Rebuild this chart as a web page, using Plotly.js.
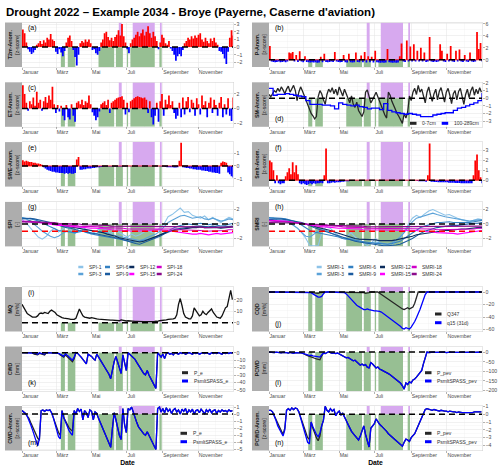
<!DOCTYPE html>
<html><head><meta charset="utf-8">
<script src="https://cdn.plot.ly/plotly-3.0.1.min.js"></script>
<style>html,body{margin:0;padding:0;background:#fff}#chart{width:500px;height:470px}</style>
</head><body><div id="chart"></div>
<script>
// ---------------- DATA ----------------
const MONTH_TICKS = ['2022-01-01','2022-03-01','2022-05-01','2022-07-01','2022-09-01','2022-11-01'];
const MONTH_LABELS = ['Januar','März','Mai','Juli','September','November'];
const MINOR_MONTHS = ['2022-02-01','2022-04-01','2022-06-01','2022-08-01','2022-10-01','2022-12-01'];

const HEAT_START = ['2022-06-17','2022-07-11','2022-08-27'];
const HEAT_END   = ['2022-06-22','2022-08-18','2022-08-30'];
const DRY_START  = ['2022-03-09','2022-03-21','2022-05-13','2022-06-12','2022-07-01','2022-07-07','2022-08-26'];
const DRY_END    = ['2022-03-16','2022-04-03','2022-06-09','2022-06-24','2022-07-03','2022-08-18','2022-08-30'];

// 3-day series (122 values, from 1 Jan 2022)
const T2M = [2.3,1.8,0.6,-0.3,-0.6,-0.9,-0.7,-0.4,0.3,0.5,
 0.8,0.4,0.9,0.6,1.2,1.0,1.7,1.0,0.8,-0.6,
 -0.9,-0.3,-0.7,-1.2,-0.5,0.6,1.2,1.5,0.8,-0.4,
 -1.3,-2.4,-1.0,0.5,0.8,0.6,1.0,0.7,1.0,0.5,
 -0.4,-0.3,-0.8,-1.0,-0.5,0.6,1.0,1.8,2.0,1.3,
 0.9,1.2,0.8,1.3,1.6,2.2,1.5,3.0,1.4,0.6,
 -0.3,-0.8,0.5,1.0,1.2,1.6,2.0,1.4,1.8,2.3,
 1.5,2.0,2.7,1.8,1.2,2.0,1.4,0.8,-0.3,0.6,
 1.6,1.2,0.5,0.3,0.8,-0.2,-0.5,-1.0,-1.8,-1.2,
 -0.9,-1.2,-0.4,0.5,0.8,1.2,1.0,1.4,1.1,1.5,
 1.2,1.6,1.8,1.0,0.7,1.2,0.8,0.5,1.1,0.8,
 1.2,0.6,0.3,-0.5,-0.6,-0.9,-1.5,-2.2,-0.6,1.2,
 2.2,1.5];
const PREC = [2.3,-0.3,-0.35,-0.4,-0.35,-0.3,-0.4,-0.35,-0.3,-0.4,
 -0.3,1.2,1.1,1.3,-0.3,0.8,-0.35,1.4,-0.3,-0.4,
 0.6,-0.35,-0.4,-0.45,-0.4,-0.45,-0.4,-0.5,-0.45,0.5,
 -0.4,1.0,-0.35,-0.4,-0.35,-0.3,-0.35,1.3,-0.3,-0.35,
 -0.4,-0.35,0.8,-0.4,-0.45,1.0,-0.4,-0.45,-0.4,1.2,
 -0.35,-0.4,0.7,-0.4,1.3,-0.45,0.6,-0.4,0.5,-0.45,
 1.5,-0.4,-0.45,-0.5,-0.45,-0.5,-0.45,1.8,-0.4,-0.45,
 -0.5,-0.45,-0.5,-0.45,0.6,2.7,-0.3,-0.35,3.2,-0.3,
 2.2,-0.3,2.6,-0.3,1.5,-0.3,2.0,-0.3,1.2,-0.35,
 -0.3,3.8,-0.3,-0.35,-0.3,-0.35,-0.3,2.6,1.5,-0.3,
 -0.35,1.0,-0.3,2.3,-0.3,-0.35,1.5,-0.3,1.7,-0.3,
 -0.35,0.8,-0.3,-0.35,1.2,-0.3,-0.35,-0.3,4.6,1.8,
 2.8,-0.3];
const ET = [3.2,2.0,0.8,-0.3,1.0,0.6,1.5,0.4,2.3,0.8,
 1.2,-0.3,1.0,1.6,0.8,1.8,1.2,3.0,0.6,-0.6,
 0.5,-0.4,0.4,-1.0,-1.6,0.5,-1.2,-1.5,0.6,-1.0,
 -1.8,0.8,1.0,0.6,1.2,0.5,1.0,0.8,1.8,0.6,
 -0.5,-1.0,-1.6,-1.2,-0.4,0.6,0.8,1.0,0.5,1.2,
 -0.6,0.8,1.0,1.2,1.4,1.5,1.6,1.7,1.2,-0.8,
 0.8,-0.5,1.0,1.2,1.4,1.6,1.7,1.6,1.5,1.4,
 1.5,1.2,-0.6,1.0,-1.2,-2.2,-1.0,0.8,-1.8,1.0,
 2.0,-1.0,1.2,0.6,1.8,0.5,1.0,-0.6,-1.4,-1.0,
 0.8,-1.2,1.5,-0.8,1.0,1.6,-0.5,1.2,0.8,-1.0,
 1.4,0.6,-0.8,1.8,0.5,1.0,-1.2,0.8,1.5,-0.6,
 1.2,0.5,-1.0,0.8,1.6,-1.2,0.6,-0.8,1.4,-1.0,
 -1.7,1.5];
const SM_TOP = [0.5,0.2,0.6,1.0,0.8,1.3,0.9,1.5,1.1,0.6,
 1.2,1.6,0.8,1.3,1.7,1.0,-0.3,0.8,1.5,1.0,
 0.4,-0.3,-1.0,-1.6,-2.0,-2.3,-2.7,-2.4,0.2,1.0,
 0.6,-0.2,-0.8,0.5,1.2,0.8,1.4,0.6,1.2,0.4,
 1.5,0.9,0.3,1.2,0.5,-0.2,-0.6,0.3,-0.8,-1.2,
 -0.5,-1.6,-2.0,-2.4,-1.8,0.8,1.1,0.2,-0.6,-0.2,
 0.4,0.8,0.2,-0.5,-1.0,-1.6,-2.2,-2.6,0.8,0.4,
 -0.4,-1.0,-1.5,-2.0,-2.4,-2.8,-3.3,-2.0,-2.6,-1.8,
 0.3,-0.3,0.8,1.3,0.5,1.7,0.8,1.2,0.2,-0.6,
 0.8,1.5,0.4,-0.4,0.6,1.2,-0.2,0.9,1.4,0.2,
 -0.5,0.8,1.3,0.4,-0.7,0.6,1.0,-0.2,0.9,1.3,
 0.3,-0.8,0.5,1.2,0.1,1.0,1.5,0.4,1.2,0.6,
 1.4,0.8];
const SWE = [0.45,0.35,0.4,0.35,0.3,0.3,0.25,0.25,0.2,0.2,
 0.15,0.1,-0.1,-0.2,-0.3,-0.35,-0.4,-0.45,-0.45,-0.5,
 -0.5,-0.55,-0.55,-0.55,-0.6,-0.55,-0.6,-0.55,-0.6,-0.6,
 -0.55,0.5,0.7,-0.3,-0.3,-0.25,-0.25,-0.2,-0.2,-0.2,
 -0.15,-0.15,-0.12,-0.1,-0.1,-0.08,-0.06,-0.05,-0.04,-0.04,
 -0.04,-0.04,-0.04,-0.04,-0.04,-0.04,-0.04,-0.04,-0.04,-0.04,
 -0.03,-0.03,-0.03,-0.03,-0.03,-0.03,-0.03,-0.03,-0.03,-0.03,
 -0.03,-0.03,-0.03,-0.03,-0.03,-0.03,-0.03,-0.03,-0.03,-0.03,
 -0.04,-0.05,-0.08,-0.1,-0.1,-0.1,-0.1,-0.12,-0.12,-0.1,
 0.4,1.8,-0.1,-0.12,-0.15,-0.15,-0.2,-0.2,-0.25,-0.25,
 -0.3,-0.3,-0.3,-0.35,-0.35,-0.4,-0.4,-0.45,-0.45,-0.5,
 -0.5,-0.55,-0.55,-0.6,0.25,0.35,0.3,0.25,-0.5,-0.65,
 -0.8,-0.9];
const SMLT = [2.0,1.8,1.0,-0.3,0.5,-0.3,-0.4,-0.3,-0.3,0.4,
 0.8,1.2,0.6,1.8,0.8,1.5,0.6,-0.3,-0.4,-0.3,
 -0.4,-0.5,-0.4,-0.3,-0.4,-0.3,-0.35,-0.3,-0.3,-0.25,
 -0.3,0.5,3.2,-0.3,-0.3,-0.25,-0.2,-0.25,-0.2,-0.2,
 -0.2,-0.15,-0.15,-0.12,-0.1,-0.1,-0.08,-0.06,-0.04,-0.04,
 -0.04,-0.04,-0.04,-0.04,-0.04,-0.04,-0.04,-0.04,-0.04,-0.04,
 -0.04,-0.04,-0.04,-0.04,-0.04,-0.04,-0.04,-0.04,-0.04,-0.04,
 -0.04,-0.04,-0.04,-0.04,-0.04,-0.04,-0.04,-0.04,-0.04,-0.04,
 -0.04,-0.04,-0.04,-0.04,-0.08,-0.1,-0.1,-0.12,-0.12,-0.15,
 0.5,3.7,-0.15,-0.15,-0.18,-0.18,-0.2,-0.2,-0.2,-0.22,
 -0.22,-0.22,-0.25,-0.25,-0.25,-0.25,-0.28,-0.28,-0.28,-0.3,
 -0.3,-0.3,-0.3,-0.3,-0.3,-0.3,0.5,2.0,2.6,1.0,
 0.3,-0.3];
const MQ = [16,13,10,8,7,6,5,5,5,6,
 8,8.5,8,9,8.5,8,10,11,10,9,
 7,6,5,4.5,4,4,3.5,3.5,3,3,
 3,4,9,12,9,6,5,4.5,4,4,
 4.5,4,3.5,3.5,3.2,3,3,2.8,2.6,2.5,
 2.5,2.4,2.3,2.2,2.0,2.0,1.8,2.5,2.0,1.8,
 1.6,1.8,1.5,1.4,1.3,1.2,1.2,1.3,1.1,1.0,
 1.0,1.0,0.9,0.9,1.0,0.9,1.0,1.5,1.2,1.8,
 2.0,1.6,2.0,2.5,3.0,3.0,3.2,3.5,4.0,7,
 16,21,15,8,5,4,3.5,3.5,6,13,
 11,8,6,7,10,8,7,9,11,12,
 9,7,5,4.5,4,6,9,13,14,22,
 28,20];
const CQD_Q347 = [0,0,0,0,0,0,0,0,0,0,
 0,0,0,0,0,0,0,0,0,0,
 0,0,0,0,-0.5,-1.5,-2,-2.5,-2,-1,
 -0.5,0,0,0,0,0,0,0,0,0,
 0,0,0,0,0,0,0,0,0,0,
 0,0,0,0,-1,-2,-2,-1,0,0,
 0,0,0,-2,-4,-6,-8,-10,-12,-14,
 -16,-17,-19,-21,-23,-25,-27,-28,-26,-25,
 -27,-26,-24,-18,-8,0,0,0,0,0,
 0,0,0,0,0,0,0,0,0,0,
 0,0,0,0,0,0,0,0,0,0,
 0,0,0,0,0,0,0,0,0,0,
 0,0];
const CQD_Q15 = [0,0,0,0,0,0,0,0,0,0,
 0,0,0,0,0,0,0,0,0,0,
 0,0,0,0,-1,-3,-5,-7,-8,-8,
 -7,-3,0,0,0,0,0,0,0,0,
 0,0,0,-1,-3,-6,-9,-13,-16,-19,
 -21,-23,-25,-26,-28,-28,-27,-28,-29,-30,
 -30,-30,-30,-31,-32,-34,-36,-38,-40,-42,
 -44,-46,-48,-50,-52,-55,-58,-59,-57,-58,
 -59,-56,-52,-47,-41,-35,-28,-20,-12,-4,
 0,0,0,0,0,0,0,0,0,0,
 0,0,0,0,0,0,0,0,0,0,
 0,0,0,0,0,0,0,0,0,0,
 0,0];
const CWD_PE = [0,0,-1,0,-1,-1,0,-2,-2,-3,
 -1,-2,-2,-3,0,0,-1,0,-1,-1,
 0,-1,-3,-4,-6,-3,-5,-7,-9,-12,
 -8,0,-1,-3,-6,-9,-12,-15,-2,-3,
 -5,-8,-10,-2,-6,-10,-13,-17,-21,-24,
 -29,-35,-22,-12,-5,-14,-22,-28,-3,-15,
 -24,0,-2,-4,-6,-9,-13,-17,-21,-25,
 -28,-30,-24,-30,-35,-39,-43,-48,0,-3,
 -6,-2,-8,-1,0,-2,-1,-3,0,-1,
 -2,0,-1,0,-2,-1,0,-1,-2,0,
 -1,0,-2,-1,0,-1,0,-1,-2,0,
 -1,0,-1,0,-1,-2,0,-1,0,-1,
 0,-1];
const CWD_PS = [0,0,-1,0,-1,-1,0,-1,-1,-2,
 0,-1,-1,-2,0,0,-1,0,-1,-1,
 0,-1,-2,-3,-5,-1,-3,-5,-7,-10,
 -6,0,-1,-3,-6,-9,-12,-15,-2,-3,
 -5,-8,-10,-2,-6,-10,-13,-17,-21,-24,
 -29,-35,-22,-12,-5,-14,-22,-28,-3,-15,
 -24,0,-2,-4,-6,-9,-13,-17,-21,-25,
 -28,-30,-24,-30,-35,-39,-43,-48,0,-3,
 -6,-2,-8,-1,0,-2,-1,-3,0,-1,
 -2,0,-1,0,-2,-1,0,-1,-2,0,
 -1,0,-2,-1,0,-1,0,-1,-2,0,
 -1,0,-1,0,-1,-2,0,-1,0,-1,
 0,-1];
const PCWD_PE = [0,-2,-1,-3,0,-2,-1,-4,-2,-1,
 -3,-5,-2,-4,-6,-3,-5,-4,-3,-5,
 -10,-15,-20,-22,-25,-30,-32,-35,-38,-40,
 -20,-5,-8,-2,2,-3,-6,-4,-8,-5,
 -10,-12,-20,-25,-30,-28,-35,-40,-45,-42,
 -50,-58,-68,-62,-70,-65,-78,-82,-55,-62,
 -75,-82,-78,-88,-92,-96,-100,-105,-112,-118,
 -125,-130,-138,-145,-152,-162,-175,-192,-160,-168,
 -155,-160,-145,-140,-130,-118,-105,-95,-60,-25,
 0,-2,-1,-3,0,-2,-1,0,-2,-1,
 0,-3,-1,0,-2,-1,0,-1,-2,0,
 -1,0,-2,-1,0,-1,0,-1,0,-1,
 0,-1];
const PCWD_PS = [0,-2,-1,-3,0,-2,-1,-4,-2,-1,
 -3,-5,-2,-4,-6,-3,-5,-4,-3,-5,
 -8,-12,-15,-18,-16,-20,-22,-25,-23,-26,
 -15,-5,-8,-2,2,-3,-6,-4,-8,-5,
 -10,-12,-20,-25,-30,-28,-35,-40,-45,-42,
 -50,-58,-68,-62,-70,-65,-78,-82,-55,-62,
 -75,-82,-78,-88,-92,-96,-100,-105,-112,-118,
 -125,-130,-138,-145,-152,-162,-175,-192,-160,-168,
 -155,-160,-145,-140,-130,-118,-105,-95,-60,-25,
 0,-2,-1,-3,0,-2,-1,0,-2,-1,
 0,-3,-1,0,-2,-1,0,-1,-2,0,
 -1,0,-2,-1,0,-1,0,-1,0,-1,
 0,-1];
const CWDA_PE = [0.5,0.3,0.1,-0.3,-0.6,-1.2,-1.8,-2.4,-3.0,-3.4,
 -3.7,0.5,0.6,0.4,0.6,0.5,0.6,0.2,-0.5,-1.2,
 -2.0,-2.6,-3.0,0.5,-0.5,-1.0,-1.5,-1.9,-2.2,-2.4,
 0.5,0.0,0.8,0.4,0.7,-0.8,0.5,0.2,-0.5,0.6,
 0.4,-0.8,0.3,0.1,-0.6,-1.2,-1.8,-2.3,-3.0,-3.6,
 -4.3,-4.7,-2.0,0.2,-0.8,-2.0,-3.0,-3.6,0.8,-1.5,
 -2.6,0.8,0.6,1.0,0.2,-0.6,-1.2,-1.8,-2.2,-2.5,
 -2.8,-3.0,-2.5,-3.0,-3.5,-4.0,-4.5,-5.0,0.8,1.0,
 0.3,0.8,0.2,0.9,0.4,0.7,0.1,0.6,0.8,0.3,
 0.6,0.0,0.7,0.4,0.8,0.1,0.6,0.3,0.7,0.0,
 0.5,0.6,0.2,0.7,0.4,0.0,0.6,0.3,0.7,0.2,
 0.5,0.6,0.1,0.5,0.3,0.6,0.4,0.5,0.3,0.6,
 0.4,0.5];
const CWDA_PS = [0.5,0.3,0.1,-0.3,-0.8,-1.5,-2.2,-3.0,-3.8,-4.5,
 -3.5,0.5,0.6,0.4,0.6,0.5,0.6,0.2,-0.5,-1.5,
 -2.5,-3.2,-3.5,0.5,-0.5,-1.2,-1.8,-2.3,-2.7,-3.0,
 0.5,0.0,0.8,0.4,0.7,-0.8,0.5,0.2,-0.5,0.6,
 0.4,-0.8,0.3,0.1,-0.6,-1.2,-1.8,-2.3,-3.0,-3.6,
 -4.3,-4.7,-2.0,0.2,-0.8,-2.0,-3.0,-3.6,0.8,-1.5,
 -2.6,0.8,0.6,1.0,0.2,-0.6,-1.2,-1.8,-2.2,-2.5,
 -2.8,-3.0,-2.5,-3.0,-3.5,-4.0,-4.5,-5.0,0.8,1.0,
 0.3,0.8,0.2,0.9,0.4,0.7,0.1,0.6,0.8,0.3,
 0.6,0.0,0.7,0.4,0.8,0.1,0.6,0.3,0.7,0.0,
 0.5,0.6,0.2,0.7,0.4,0.0,0.6,0.3,0.7,0.2,
 0.5,0.6,0.1,0.5,0.3,0.6,0.4,0.5,0.3,0.6,
 0.4,0.5];
const PCWDA_PE = [0.5,0.5,0.3,-0.2,-0.7,-1.3,-1.8,-2.3,-2.6,-1.8,
 0.5,0.7,0.5,0.8,0.6,0.8,0.7,0.3,-0.4,-1.0,
 -1.8,-2.5,-3.0,-3.2,-1.0,-1.8,-2.5,-3.0,-3.4,-2.8,
 -1.5,-0.8,1.0,0.5,0.3,0.7,0.4,0.6,-0.2,0.2,
 0.4,-0.1,0.1,-0.3,-0.8,-1.3,-1.8,-2.2,-2.5,-2.8,
 -3.0,-3.3,-2.8,-2.0,-1.5,-2.6,-3.6,-4.2,-1.8,-1.5,
 -1.2,-0.6,-1.0,-1.3,-1.5,-1.7,-2.0,-2.2,-2.5,-2.7,
 -2.9,-3.1,-3.3,-3.5,-3.7,-3.9,-4.1,-3.6,-3.2,-3.3,
 -3.5,-3.0,-2.8,-2.5,-2.0,-1.5,-1.0,-0.5,0.0,0.6,
 0.7,0.6,0.6,0.5,0.6,0.5,0.5,0.4,0.5,0.4,
 0.4,0.4,0.3,0.4,0.3,0.3,0.3,0.2,0.3,0.2,
 0.2,0.2,0.2,0.2,0.2,0.2,0.2,0.3,0.3,0.3,
 0.3,0.3];
const PCWDA_PS = [0.5,0.5,0.3,-0.2,-0.8,-1.5,-2.0,-2.5,-2.8,-2.0,
 0.5,0.7,0.5,0.8,0.6,0.8,0.7,0.3,-0.5,-1.3,
 -2.2,-3.0,-3.6,-3.8,-1.0,-1.6,-2.2,-2.6,-2.9,-2.4,
 -1.5,-0.8,1.0,0.5,0.3,0.7,0.4,0.6,-0.2,0.2,
 0.4,-0.1,0.1,-0.3,-0.8,-1.3,-1.8,-2.2,-2.5,-2.8,
 -3.0,-3.3,-2.8,-2.0,-1.5,-2.6,-3.6,-4.2,-1.8,-1.5,
 -1.2,-0.6,-1.0,-1.3,-1.5,-1.7,-2.0,-2.2,-2.5,-2.7,
 -2.9,-3.1,-3.3,-3.5,-3.7,-3.9,-4.1,-3.6,-3.2,-3.3,
 -3.5,-3.0,-2.8,-2.5,-2.0,-1.5,-1.0,-0.5,0.0,0.6,
 0.7,0.6,0.6,0.5,0.6,0.5,0.5,0.4,0.5,0.4,
 0.4,0.4,0.3,0.4,0.3,0.3,0.3,0.2,0.3,0.2,
 0.2,0.2,0.2,0.2,0.2,0.2,0.2,0.3,0.3,0.3,
 0.3,0.3];

// weekly series (53 values)
const SM_DEEP = [1.3,0.4,0.5,0.5,0.6,0.5,0.4,0.3,0.2,-0.3,
 -0.8,-0.8,-0.8,-0.9,-0.9,-1.0,-1.4,-0.6,-0.8,-0.9,
 -1.0,-0.9,-1.1,-1.2,-1.4,-1.3,-1.3,-1.5,-0.7,-1.6,
 -1.8,-1.9,-2.0,-2.1,-2.0,-2.1,-2.2,-2.4,-2.4,-2.4,
 -2.2,-2.1,-2.0,-1.9,-1.9,-1.6,-1.3,-1.2,-1.0,-0.8,
 -0.6,-0.3,0.7];
const SPI_1 = [0.6,0.2,-0.5,-1.2,-1.8,-2.1,-1.7,-1.0,-0.6,-1.1,-0.7,-0.3,-0.8,-1.2,-0.6,-0.4,-0.9,-1.4,-1.1,-0.7,-0.5,-1.0,-1.3,-0.9,-1.2,-1.5,-1.8,-1.4,-1.7,-1.5,-1.1,-0.8,-1.2,-0.9,-0.6,0.0,1.0,1.3,1.8,2.2,1.6,1.7,1.2,1.0,0.8,1.1,0.6,0.9,0.5,0.2,0.6,0.9,0.7];
const SPI_3 = [0.8,0.7,0.4,0.0,-0.5,-1.0,-1.4,-1.7,-1.9,-1.7,-1.3,-1.0,-1.1,-1.3,-1.0,-0.8,-1.0,-1.3,-1.4,-1.2,-1.0,-1.2,-1.5,-1.6,-1.7,-1.8,-2.0,-2.1,-2.2,-2.3,-2.1,-1.8,-1.6,-1.4,-1.0,-0.4,0.2,0.5,0.8,1.1,1.2,1.0,0.8,0.9,1.0,0.7,0.6,0.8,0.6,0.4,0.5,0.7,0.6];
const SPI_6 = [0.9,0.8,0.8,0.6,0.4,0.2,-0.1,-0.4,-0.7,-0.9,-1.0,-1.0,-1.1,-1.2,-1.1,-1.0,-1.2,-1.4,-1.5,-1.6,-1.7,-1.8,-1.9,-2.0,-2.1,-2.2,-2.3,-2.4,-2.5,-2.4,-2.3,-2.2,-2.0,-1.8,-1.5,-1.2,-0.9,-0.6,-0.4,-0.2,-0.1,0.0,-0.1,0.0,0.1,0.0,-0.1,0.0,-0.2,-0.3,-0.2,0.0,0.1];
const SPI_9 = [0.7,0.8,0.8,0.7,0.6,0.5,0.4,0.2,0.0,-0.2,-0.4,-0.5,-0.6,-0.8,-0.9,-1.0,-1.1,-1.3,-1.4,-1.5,-1.6,-1.7,-1.8,-1.9,-2.0,-2.2,-2.4,-2.6,-2.7,-2.8,-2.6,-2.4,-2.2,-2.0,-1.7,-1.4,-1.1,-0.9,-0.7,-0.6,-0.5,-0.4,-0.4,-0.3,-0.3,-0.4,-0.4,-0.3,-0.4,-0.5,-0.4,-0.3,-0.3];
const SPI_12 = [0.3,0.4,0.4,0.3,0.3,0.2,0.2,0.1,0.0,-0.1,-0.2,-0.3,-0.3,-0.4,-0.5,-0.6,-0.7,-0.8,-0.9,-1.0,-1.2,-1.4,-1.5,-1.7,-1.9,-2.0,-2.2,-2.3,-2.4,-2.5,-2.4,-2.2,-2.0,-1.8,-1.6,-1.3,-1.0,-0.9,-0.8,-0.7,-0.6,-0.6,-0.5,-0.5,-0.4,-0.5,-0.5,-0.4,-0.5,-0.6,-0.5,-0.5,-0.4];
const SPI_15 = [0.4,0.4,0.3,0.3,0.2,0.1,0.0,-0.1,-0.1,-0.2,-0.2,-0.3,-0.3,-0.4,-0.4,-0.5,-0.5,-0.6,-0.6,-0.6,-0.7,-0.7,-0.8,-0.8,-0.8,-0.9,-0.9,-1.0,-1.0,-1.0,-1.0,-0.9,-0.9,-0.8,-0.8,-0.8,-0.9,-1.0,-1.1,-1.2,-1.3,-1.3,-1.4,-1.4,-1.3,-1.4,-1.5,-1.4,-1.3,-1.4,-1.3,-1.2,-1.2];
const SPI_18 = [0.3,0.3,0.3,0.2,0.2,0.2,0.1,0.1,0.0,0.0,-0.1,-0.1,-0.2,-0.2,-0.3,-0.3,-0.3,-0.4,-0.4,-0.4,-0.5,-0.5,-0.5,-0.6,-0.6,-0.6,-0.7,-0.7,-0.7,-0.7,-0.7,-0.6,-0.6,-0.6,-0.6,-0.6,-0.6,-0.7,-0.7,-0.8,-0.8,-0.9,-0.9,-0.9,-0.9,-1.0,-1.0,-1.0,-0.9,-0.9,-0.9,-0.8,-0.8];
const SPI_24 = [0.3,0.3,0.3,0.3,0.3,0.2,0.2,0.2,0.2,0.1,0.1,0.1,0.0,0.0,0.0,-0.1,-0.1,-0.1,-0.2,-0.2,-0.2,-0.2,-0.3,-0.3,-0.3,-0.3,-0.3,-0.4,-0.4,-0.4,-0.4,-0.4,-0.3,-0.3,-0.3,-0.3,-0.3,-0.3,-0.3,-0.4,-0.4,-0.4,-0.4,-0.4,-0.4,-0.5,-0.5,-0.5,-0.4,-0.4,-0.4,-0.4,-0.4];
const SMRI_1 = [0.8,0.6,0.3,0.5,0.7,0.2,-0.2,-0.6,-1.2,-2.0,-3.0,-3.0,-3.0,-1.0,-0.4,-0.6,-1.2,-1.6,-2.0,-1.8,-1.2,-1.8,-2.2,-2.6,-3.0,-2.6,-2.0,-2.6,-3.0,-2.8,-3.0,-2.2,-2.0,-1.0,0.0,0.8,1.2,0.9,1.4,1.8,2.0,1.7,1.5,1.2,1.3,1.0,0.8,0.6,0.5,0.3,0.5,0.7,0.6];
const SMRI_3 = [0.7,0.8,0.6,0.6,0.5,0.2,-0.2,-0.6,-1.2,-1.7,-1.8,-1.4,-1.0,-0.8,-0.9,-1.2,-1.5,-1.8,-2.0,-2.1,-2.0,-2.2,-2.4,-2.6,-2.7,-2.6,-2.5,-2.6,-2.7,-2.8,-2.6,-2.3,-1.8,-1.2,-0.4,0.3,0.8,1.0,1.2,1.4,1.5,1.3,1.1,1.0,0.9,0.8,0.7,0.6,0.5,0.4,0.5,0.6,0.6];
const SMRI_6 = [0.9,0.9,0.8,0.8,0.7,0.6,0.4,0.2,-0.2,-0.6,-0.9,-1.1,-1.2,-1.3,-1.4,-1.5,-1.6,-1.8,-2.0,-2.1,-2.2,-2.3,-2.4,-2.5,-2.6,-2.6,-2.7,-2.7,-2.8,-2.8,-2.7,-2.6,-2.4,-2.0,-1.6,-1.2,-0.8,-0.5,-0.3,-0.1,0.1,0.2,0.2,0.3,0.3,0.2,0.2,0.2,0.1,0.2,0.3,0.4,0.5];
const SMRI_9 = [0.6,0.7,0.7,0.7,0.6,0.6,0.5,0.4,0.2,0.0,-0.3,-0.5,-0.7,-0.9,-1.0,-1.2,-1.4,-1.6,-1.8,-2.0,-2.2,-2.4,-2.5,-2.6,-2.7,-2.8,-2.9,-3.0,-3.0,-3.0,-3.0,-2.9,-2.8,-2.6,-2.3,-2.0,-1.6,-1.3,-1.0,-0.8,-0.6,-0.5,-0.4,-0.3,-0.3,-0.2,-0.2,-0.1,-0.1,0.0,0.1,0.1,0.2];
const SMRI_12 = [0.2,0.3,0.3,0.3,0.3,0.3,0.2,0.2,0.1,0.0,-0.2,-0.3,-0.5,-0.6,-0.8,-0.9,-1.1,-1.3,-1.5,-1.7,-1.9,-2.0,-2.1,-2.1,-2.2,-2.2,-2.2,-2.3,-2.3,-2.4,-2.3,-2.2,-2.1,-2.0,-1.9,-1.7,-1.5,-1.4,-1.3,-1.2,-1.1,-1.0,-1.0,-0.9,-0.9,-0.8,-0.8,-0.7,-0.7,-0.6,-0.6,-0.5,-0.5];
const SMRI_15 = [0.5,0.5,0.5,0.4,0.4,0.3,0.2,0.1,0.0,-0.1,-0.2,-0.3,-0.3,-0.4,-0.4,-0.5,-0.5,-0.6,-0.6,-0.6,-0.7,-0.7,-0.7,-0.8,-0.8,-0.8,-0.8,-0.9,-0.9,-0.9,-0.9,-0.9,-0.8,-0.8,-0.8,-0.9,-0.9,-1.0,-1.0,-1.1,-1.1,-1.2,-1.2,-1.3,-1.3,-1.3,-1.4,-1.3,-1.2,-1.1,-1.0,-1.0,-0.9];
const SMRI_18 = [0.4,0.4,0.4,0.4,0.3,0.3,0.2,0.2,0.1,0.0,0.0,-0.1,-0.1,-0.2,-0.2,-0.3,-0.3,-0.3,-0.4,-0.4,-0.4,-0.5,-0.5,-0.5,-0.6,-0.6,-0.6,-0.6,-0.7,-0.7,-0.7,-0.7,-0.7,-0.6,-0.6,-0.6,-0.6,-0.6,-0.7,-0.7,-0.7,-0.8,-0.8,-0.8,-0.8,-0.8,-0.8,-0.8,-0.7,-0.7,-0.7,-0.6,-0.6];
const SMRI_24 = [0.2,0.2,0.2,0.2,0.2,0.2,0.1,0.1,0.1,0.0,0.0,0.0,-0.1,-0.1,-0.1,-0.2,-0.2,-0.2,-0.2,-0.3,-0.3,-0.3,-0.3,-0.3,-0.4,-0.4,-0.4,-0.4,-0.4,-0.4,-0.4,-0.4,-0.4,-0.4,-0.4,-0.4,-0.4,-0.4,-0.4,-0.4,-0.4,-0.4,-0.4,-0.4,-0.4,-0.4,-0.4,-0.4,-0.3,-0.3,-0.3,-0.3,-0.3];

const SPI_NAMES = ['SPI-1','SPI-3','SPI-6','SPI-9','SPI-12','SPI-15','SPI-18','SPI-24'];
const SMRI_NAMES = ['SMRI-1','SMRI-3','SMRI-6','SMRI-9','SMRI-12','SMRI-15','SMRI-18','SMRI-24'];
const SM_NAMES = ['0-7cm','100-289cm'];
const CQD_NAMES = ['Q347','q15 (31d)'];
const CWD_NAMES = ['P_e','PsmltSPASS_e'];
const PCWD_NAMES = ['P_pev','PsmltSPASS_pev'];

// ---------------- STYLE / LAYOUT ----------------
const FONT = 'Liberation Sans, Arial, Helvetica, sans-serif';
const DAY = 86400000;
const W = 500, H = 470;
const PURPLE = '#d7a9ef', GREEN = '#97bf93', STRIP = '#adadad';
const IDX_COLORS = ['#8dc3e8','#5ba2d8','#3380c2','#1b5b9f','#0b2c5c','#ff00ff','#d000c8','#8b0a8b'];

function dateGrid(step, n){ const out=[]; const t0=Date.UTC(2022,0,1); for(let i=0;i<n;i++){ out.push(new Date(t0+i*step*DAY).toISOString().slice(0,10)); } return out; }
const D3 = dateGrid(3, T2M.length);
const D7 = dateGrid(7, SPI_1.length);

const ROWS_PX = [[22.5,67],[82.3,126.8],[142.1,186.6],[201.9,246.4],[287,331.5],[346.5,391],[406,450.5]];
const COLS_PX = [[22,233],[269,482]];
const STRIP_PX = [[5,22],[252,269]];

const PANELS = [
 {id:'a',row:0,col:0,strip:['T2m-Anom.','[z-score]'],range:[-2.6,3.2],ticks:[-2,-1,0,1,2,3],lab:'top'},
 {id:'b',row:0,col:1,strip:['P-Anom.','[z-score]'],range:[-1.2,6.2],ticks:[0,2,4,6],lab:'top'},
 {id:'c',row:1,col:0,strip:['ET-Anom.','[z-score]'],range:[-2.5,3.6],ticks:[-2,0,2],lab:'top'},
 {id:'d',row:1,col:1,strip:['SM-Anom.','[z-score]'],range:[-3.75,2.1],ticks:[-3,-2,-1,0,1,2],lab:'bottom'},
 {id:'e',row:2,col:0,strip:['SWE-Anom.','[z-score]'],range:[-1.6,1.85],ticks:[-1,0,1],lab:'top'},
 {id:'f',row:2,col:1,strip:['Smlt-Anom.','[z-score]'],range:[-0.65,3.85],ticks:[0,1,2,3],lab:'top'},
 {id:'g',row:3,col:0,strip:['SPI','[-]'],range:[-3.1,3.05],ticks:[-2,0,2],lab:'top'},
 {id:'h',row:3,col:1,strip:['SMRI','[-]'],range:[-3.1,3.05],ticks:[-2,0,2],lab:'top'},
 {id:'i',row:4,col:0,strip:['MQ','[m³/s]'],range:[-7.5,31],ticks:[0,10,20],lab:'top'},
 {id:'j',row:4,col:1,strip:['CQD','[m³/s]'],range:[-63,8],ticks:[-60,-40,-20,0],lab:'bottom'},
 {id:'k',row:5,col:0,strip:['CWD','[mm]'],range:[-51.5,8.3],ticks:[-50,-40,-30,-20,-10,0],lab:'bottom'},
 {id:'l',row:5,col:1,strip:['PCWD','[mm]'],range:[-202,29],ticks:[-200,-150,-100,-50,0],lab:'bottom'},
 {id:'m',row:6,col:0,strip:['CWD-Anom.','[z-score]'],range:[-5.15,1.15],ticks:[-5,-4,-3,-2,-1,0,1],lab:'bottom'},
 {id:'n',row:6,col:1,strip:['PCWD-Anom.','[z-score]'],range:[-4.65,1.05],ticks:[-4,-3,-2,-1,0,1],lab:'bottom'}
];
const px2x = p => p / W;
const py2y = p => 1 - p / H;
function ax(n){ const s = n === 1 ? '' : String(n); return {x:'x'+s, y:'y'+s, xa:'xaxis'+s, ya:'yaxis'+s}; }

const layout = {
  width: W, height: H, margin: {l:0, r:0, t:0, b:0},
  paper_bgcolor: '#ffffff', plot_bgcolor: '#ffffff',
  showlegend: false, barmode: 'overlay', hovermode: false,
  font: {family: FONT, color: '#333333'},
  title: {text: "<b>Drought 2022 – Example 2034 - Broye (Payerne, Caserne d'aviation)</b>",
          x: px2x(6), xanchor: 'left', y: py2y(12), yanchor: 'middle',
          font: {size: 11.5, color: '#000000', family: FONT}},
  shapes: [], annotations: []
};
const traces = [];

PANELS.forEach((p, k) => {
  const n = k + 1, a = ax(n);
  const [t, b] = ROWS_PX[p.row], [l, r] = COLS_PX[p.col], [sl, sr] = STRIP_PX[p.col];
  const minor = [];
  for (let j = 0; j < p.ticks.length - 1; j++) minor.push((p.ticks[j] + p.ticks[j+1]) / 2);
  layout[a.xa] = {
    domain: [px2x(l), px2x(r)], anchor: a.y, type: 'date', range: ['2022-01-01', '2022-12-31'],
    tickmode: 'array', tickvals: MONTH_TICKS, ticktext: MONTH_LABELS, ticklabelposition: 'outside right',
    tickfont: {size: 5.2, color: '#4d4d4d', family: FONT}, ticks: 'outside', ticklen: 2, tickwidth: 0.5, tickcolor: '#666',
    showgrid: true, gridcolor: '#e3e3e3', gridwidth: 0.5,
    minor: {tickmode: 'array', tickvals: MINOR_MONTHS, showgrid: true, gridcolor: '#efefef', gridwidth: 0.4, ticks: ''},
    showline: true, mirror: true, linecolor: '#cfcfcf', linewidth: 0.5, zeroline: false, fixedrange: true
  };
  if (p.row === 6) layout[a.xa].title = {text: '<b>Date</b>', font: {size: 6.8, color: '#000', family: FONT}, standoff: 2};
  layout[a.ya] = {
    domain: [py2y(b), py2y(t)], anchor: a.x, side: 'right', range: p.range,
    tickmode: 'array', tickvals: p.ticks, tickfont: {size: 5.2, color: '#4d4d4d', family: FONT},
    ticks: 'outside', ticklen: 2, tickwidth: 0.5, tickcolor: '#666',
    showgrid: true, gridcolor: '#e3e3e3', gridwidth: 0.5,
    minor: {tickmode: 'array', tickvals: minor, showgrid: true, gridcolor: '#efefef', gridwidth: 0.4, ticks: ''},
    showline: true, mirror: true, linecolor: '#cfcfcf', linewidth: 0.5, zeroline: false, fixedrange: true
  };
  // heat (purple, above 0) and drought (green, below 0) periods drawn as background bars
  traces.push({type:'bar', x: HEAT_START, y: HEAT_START.map(() => p.range[1]), base: 0, offset: 0,
    width: HEAT_START.map((s, j) => Date.parse(HEAT_END[j]) - Date.parse(s)),
    marker: {color: PURPLE, line: {width: 0}}, xaxis: a.x, yaxis: a.y, hoverinfo: 'skip', showlegend: false});
  traces.push({type:'bar', x: DRY_START, y: DRY_START.map(() => -p.range[0]), base: p.range[0], offset: 0,
    width: DRY_START.map((s, j) => Date.parse(DRY_END[j]) - Date.parse(s)),
    marker: {color: GREEN, line: {width: 0}}, xaxis: a.x, yaxis: a.y, hoverinfo: 'skip', showlegend: false});
  // strip
  layout.shapes.push({type:'rect', xref:'paper', yref:'paper', x0:px2x(sl), x1:px2x(sr), y0:py2y(b), y1:py2y(t), fillcolor:STRIP, line:{width:0}, layer:'above'});
  layout.annotations.push({xref:'paper', yref:'paper', x:px2x((sl+sr)/2), y:py2y((t+b)/2), xanchor:'center', yanchor:'middle',
    text:'<b>'+p.strip[0]+'</b><br>'+p.strip[1], textangle:-90, showarrow:false, font:{size:5.3, color:'#1a1a1a', family:FONT}});
  // panel letter
  layout.annotations.push({xref:'paper', yref:'paper', x:px2x(l+4), y:py2y(p.lab === 'top' ? t+5.5 : b-8), xanchor:'left', yanchor:'middle',
    text:'('+p.id+')', showarrow:false, font:{size:7, color:'#000', family:FONT}});
});

function hline(n, y, color, width, dash){
  const a = ax(n);
  layout.shapes.push({type:'line', xref:a.x+' domain', x0:0, x1:1, yref:a.y, y0:y, y1:y, line:{color, width, dash}, layer:'above'});
}
function bars(n, x, vals, step){
  const a = ax(n);
  const base = {type:'bar', x, width: step*DAY, offset: 0, xaxis:a.x, yaxis:a.y, hoverinfo:'skip', showlegend:false};
  traces.push(Object.assign({}, base, {y: vals.map(v => v > 0 ? v : 0), marker:{color:'#ff0000', line:{width:0}}}));
  traces.push(Object.assign({}, base, {y: vals.map(v => v < 0 ? v : 0), marker:{color:'#0000ff', line:{width:0}}}));
}
function line(n, x, y, color, width, shape){
  const a = ax(n);
  traces.push({type:'scatter', mode:'lines', x, y, xaxis:a.x, yaxis:a.y, line:{color, width, shape: shape || 'linear'}, hoverinfo:'skip', showlegend:false});
}
function key(xPx, yPx, color, text, kw, th){
  layout.shapes.push({type:'line', xref:'paper', yref:'paper', x0:px2x(xPx), x1:px2x(xPx+kw), y0:py2y(yPx), y1:py2y(yPx), line:{color, width:th}, layer:'above'});
  layout.annotations.push({xref:'paper', yref:'paper', x:px2x(xPx+kw+3.5), y:py2y(yPx), xanchor:'left', yanchor:'middle', text, showarrow:false, font:{size:5, color:'#333', family:FONT}});
}
const DASH = '6px,4px';

// (a) T2m, (b) P, (c) ET, (e) SWE, (f) Smlt
bars(1, D3, T2M, 3); hline(1, 0, '#000', 1.5, DASH);
bars(2, D3, PREC, 3); hline(2, 0, '#ff0000', 0.8, 'solid'); hline(2, 0, '#000', 1.5, DASH);
bars(3, D3, ET, 3); hline(3, 0, '#000', 1.5, DASH);
bars(5, D3, SWE, 3); hline(5, 0, '#ff0000', 0.8, 'solid'); hline(5, 0, '#000', 1.5, DASH);
bars(6, D3, SMLT, 3); hline(6, 0, '#ff0000', 0.8, 'solid'); hline(6, 0, '#000', 1.5, DASH);

// (d) soil moisture
line(4, D3, SM_TOP, '#262626', 1.3);
line(4, D7, SM_DEEP, '#0000ff', 1.3, 'hv');
hline(4, 0, '#000', 1.5, DASH);
key(410, 123.3, '#262626', SM_NAMES[0], 6.5, 3);
key(441.7, 123.3, '#0000ff', SM_NAMES[1], 6.5, 3);

// (g) SPI, (h) SMRI
[SPI_1,SPI_3,SPI_6,SPI_9,SPI_12,SPI_15,SPI_18,SPI_24].forEach((s, j) => line(7, D7, s, IDX_COLORS[j], 1.1));
[SMRI_1,SMRI_3,SMRI_6,SMRI_9,SMRI_12,SMRI_15,SMRI_18,SMRI_24].forEach((s, j) => line(8, D7, s, IDX_COLORS[j], 1.1));
[7, 8].forEach(n => { hline(n, 0, '#000', 1.5, DASH); hline(n, -1, '#ff0000', 1.4, DASH); });
const LEG_COLS = [[78.3,105,129.3,156.7],[316.7,348.3,380,411.7]];
const LEG_ROWS = [267, 274];
SPI_NAMES.forEach((nm, j) => key(LEG_COLS[0][Math.floor(j/2)], LEG_ROWS[j%2], IDX_COLORS[j], nm, 5, 2.5));
SMRI_NAMES.forEach((nm, j) => key(LEG_COLS[1][Math.floor(j/2)], LEG_ROWS[j%2], IDX_COLORS[j], nm, 5, 2.5));

// (i) MQ
line(9, D3, MQ, '#111', 1.3);
hline(9, 0, '#000', 1.5, DASH);

// (j) CQD
hline(10, 0, '#000', 1.5, DASH);
line(10, D3, CQD_Q347, '#262626', 1.3);
line(10, D3, CQD_Q15, '#0000ff', 1.3);
key(435, 314, '#262626', CQD_NAMES[0], 6.5, 3);
key(435, 322.7, '#0000ff', CQD_NAMES[1], 6.5, 3);

// (k) CWD, (l) PCWD
hline(11, 0, '#000', 1.5, DASH);
line(11, D3, CWD_PE, '#262626', 1.3);
line(11, D3, CWD_PS, '#0000ff', 1.3);
key(182, 372.7, '#262626', CWD_NAMES[0], 6, 3);
key(182, 381, '#0000ff', CWD_NAMES[1], 6, 3);
hline(12, 0, '#000', 1.5, DASH);
line(12, D3, PCWD_PE, '#262626', 1.3);
line(12, D3, PCWD_PS, '#0000ff', 1.3);
key(425, 372.7, '#262626', PCWD_NAMES[0], 6.5, 3);
key(425, 381, '#0000ff', PCWD_NAMES[1], 6.5, 3);

// (m) CWD anomaly, (n) PCWD anomaly
hline(13, 0, '#000', 1.5, DASH);
line(13, D3, CWDA_PE, '#262626', 1.3);
line(13, D3, CWDA_PS, '#0000ff', 1.3);
key(180.5, 433.3, '#262626', CWD_NAMES[0], 6.5, 3);
key(180.5, 441.7, '#0000ff', CWD_NAMES[1], 6.5, 3);
hline(14, 0, '#000', 1.5, DASH);
line(14, D3, PCWDA_PE, '#262626', 1.3);
line(14, D3, PCWDA_PS, '#0000ff', 1.3);
key(425, 433.3, '#262626', PCWD_NAMES[0], 6.5, 3);
key(425, 441.7, '#0000ff', PCWD_NAMES[1], 6.5, 3);

Plotly.newPlot('chart', traces, layout, {staticPlot: true, displayModeBar: false});
</script>
</body></html>
